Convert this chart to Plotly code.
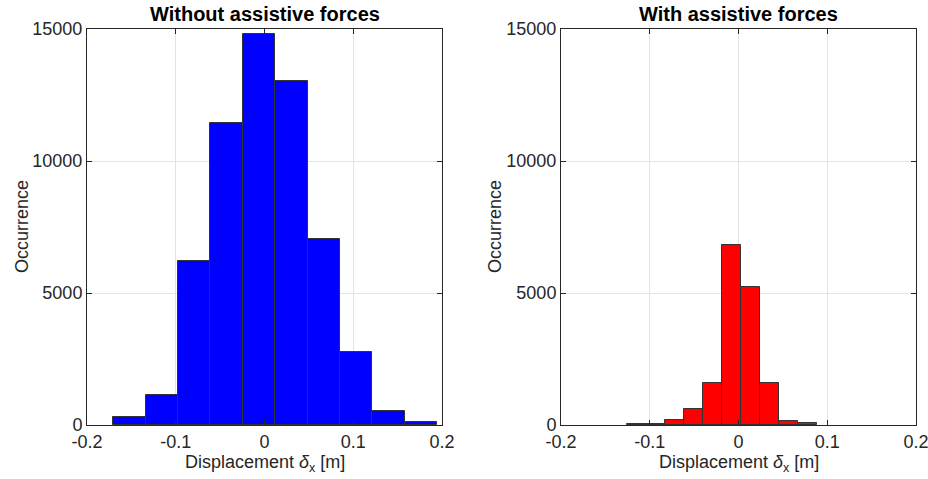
import plotly.graph_objects as go

# Data
left_edges = [-0.1704, -0.1339, -0.0974, -0.0609, -0.0244, 0.0121, 0.0486, 0.0851, 0.1216, 0.1581, 0.1946]
left_counts = [290, 1150, 6220, 11430, 14800, 13030, 7060, 2780, 540, 130]

right_edges = [-0.126, -0.1045, -0.083, -0.0615, -0.040, -0.0185, 0.003, 0.0245, 0.046, 0.0675, 0.089]
right_counts = [20, 50, 190, 600, 1610, 6800, 5210, 1590, 160, 60]

x_tickvals = [-0.2, -0.1, 0, 0.1, 0.2]
x_ticktext = ["-0.2", "-0.1", "0", "0.1", "0.2"]
y_tickvals = [0, 5000, 10000, 15000]
y_ticktext = ["0", "5000", "10000", "15000"]

titles = ["Without assistive forces", "With assistive forces"]
xlabel = "Displacement <i>δ</i><sub>x</sub> [m]"
ylabel = "Occurrence"

W, H = 928, 479
FONT = "Liberation Sans, Arial, Helvetica, sans-serif"
AX = "#262626"

def px(x):
    return x / W

def py(y):
    return 1 - y / H

def centers(edges):
    return [(edges[i] + edges[i + 1]) / 2 for i in range(len(edges) - 1)]

def widths(edges):
    return [edges[i + 1] - edges[i] for i in range(len(edges) - 1)]

fig = go.Figure()
fig.add_trace(go.Bar(x=centers(left_edges), y=left_counts, width=widths(left_edges),
                     marker=dict(color="#0000ff", line=dict(color="#333333", width=1)),
                     xaxis="x", yaxis="y", showlegend=False))
fig.add_trace(go.Bar(x=centers(right_edges), y=right_counts, width=widths(right_edges),
                     marker=dict(color="#ff0000", line=dict(color="#333333", width=1)),
                     xaxis="x2", yaxis="y2", showlegend=False))

ydom = [py(425), py(29)]
xdom1 = [px(87), px(442)]
xdom2 = [px(561), px(916)]

axis_common = dict(showline=True, linecolor=AX, linewidth=1, mirror="allticks",
                   ticks="inside", ticklen=5, tickcolor=AX, showgrid=True,
                   gridcolor="#e3e3e3", gridwidth=1, zeroline=False, automargin=False,
                   ticklabeloverflow="allow",
                   tickfont=dict(family=FONT, size=18, color=AX))

fig.update_layout(
    width=W, height=H, margin=dict(l=0, r=0, t=0, b=0, autoexpand=False),
    paper_bgcolor="white", plot_bgcolor="white", bargap=0,
    xaxis=dict(domain=xdom1, range=[-0.2, 0.2], tickvals=x_tickvals, ticktext=x_ticktext,
               anchor="y", **axis_common),
    yaxis=dict(domain=ydom, range=[0, 15000], tickvals=y_tickvals, ticktext=y_ticktext,
               anchor="x", **axis_common),
    xaxis2=dict(domain=xdom2, range=[-0.2, 0.2], tickvals=x_tickvals, ticktext=x_ticktext,
                anchor="y2", **axis_common),
    yaxis2=dict(domain=ydom, range=[0, 15000], tickvals=y_tickvals, ticktext=y_ticktext,
                anchor="x2", **axis_common),
)

ann = []
for cx, t in [((87 + 442) / 2, titles[0]), ((561 + 916) / 2, titles[1])]:
    ann.append(dict(text="<b>" + t + "</b>", x=px(cx), y=py(14), xref="paper", yref="paper",
                    xanchor="center", yanchor="middle", showarrow=False,
                    font=dict(family=FONT, size=20, color="black")))
    ann.append(dict(text=xlabel, x=px(cx), y=py(463), xref="paper", yref="paper",
                    xanchor="center", yanchor="middle", showarrow=False,
                    font=dict(family=FONT, size=18, color=AX)))
for lx in [22, 495]:
    ann.append(dict(text=ylabel, x=px(lx), y=py(227), xref="paper", yref="paper",
                    xanchor="center", yanchor="middle", showarrow=False, textangle=-90,
                    font=dict(family=FONT, size=18, color=AX)))
fig.update_layout(annotations=ann)

fig.write_html(
    "out.html",
    config={"displayModeBar": False},
    post_script="document.body.style.margin='0';document.body.style.padding='0';"
                "document.body.style.overflow='hidden';",
)
